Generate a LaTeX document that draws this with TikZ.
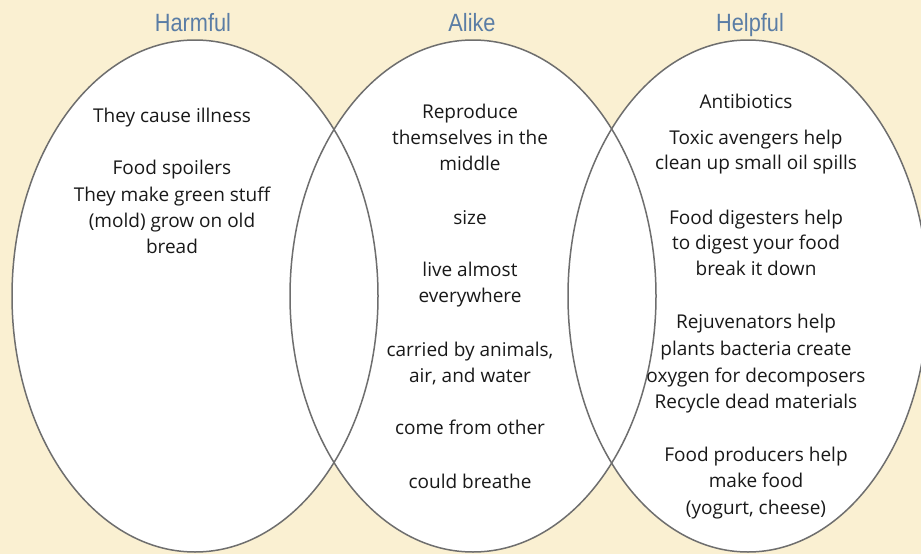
\documentclass[tikz,border=0pt]{standalone}
\usepackage{fontspec}
\setmainfont{Open Sans}
\newfontfamily\titlefont{Liberation Sans}
\definecolor{bgcream}{RGB}{250,240,210}
\definecolor{edgegray}{RGB}{110,110,110}
\definecolor{titleblue}{RGB}{90,125,165}
\definecolor{bodytext}{RGB}{25,25,25}
\begin{document}
\begin{tikzpicture}[x=1pt,y=-1pt,
  circ/.style={draw=edgegray,line width=1.5pt},
  ttl/.style={font=\titlefont\fontsize{25}{28}\selectfont,text=titleblue,inner sep=0pt,anchor=base},
  body/.style={font=\fontsize{19}{26}\selectfont,text=bodytext,inner sep=0pt,anchor=base}]
\useasboundingbox (0,0) rectangle (921,554);
\fill[bgcream] (0,0) rectangle (921,554);
% white fills
\fill[white] (195,296) ellipse [x radius=183,y radius=256];
\fill[white] (473,296) ellipse [x radius=183,y radius=256];
\fill[white] (748,296) ellipse [x radius=180,y radius=256];
% outlines
\draw[circ] (195,296) ellipse [x radius=183,y radius=256];
\draw[circ] (473,296) ellipse [x radius=183,y radius=256];
\draw[circ] (748,296) ellipse [x radius=180,y radius=256];
% titles
\node[ttl] (t1) at (193,31) {\scalebox{0.87}[1]{Harmful}};
\node[ttl] (t2) at (472,31) {\scalebox{0.87}[1]{Alike}};
\node[ttl] (t3) at (750,31) {\scalebox{0.87}[1]{Helpful}};
% left
\foreach \txt/\yy [count=\i] in {They cause illness/116, Food spoilers/168, They make green stuff/195, (mold) grow on old/221, bread/247}
  \node[body] (l\i) at (172,\yy+6) {\txt};
% middle
\foreach \txt/\yy [count=\i] in {Reproduce/112, themselves in the/138, middle/164, size/218, live almost/270, everywhere/296, {carried by animals,}/350, {air, and water}/376, come from other/428, could breathe/482}
  \node[body] (m\i) at (470,\yy+6) {\txt};
% right
\node[body] (r0) at (746,108) {Antibiotics};
\foreach \txt/\yy [count=\i] in {Toxic avengers help/138, clean up small oil spills/163, Food digesters help/218, to digest your food/243, break it down/269, Rejuvenators help/322, plants bacteria create/349, oxygen for decomposers/376, Recycle dead materials/402, Food producers help/455, make food/481, {(yogurt, cheese)}/508}
  \node[body] (r\i) at (756,\yy+6) {\txt};
\end{tikzpicture}
\end{document}
